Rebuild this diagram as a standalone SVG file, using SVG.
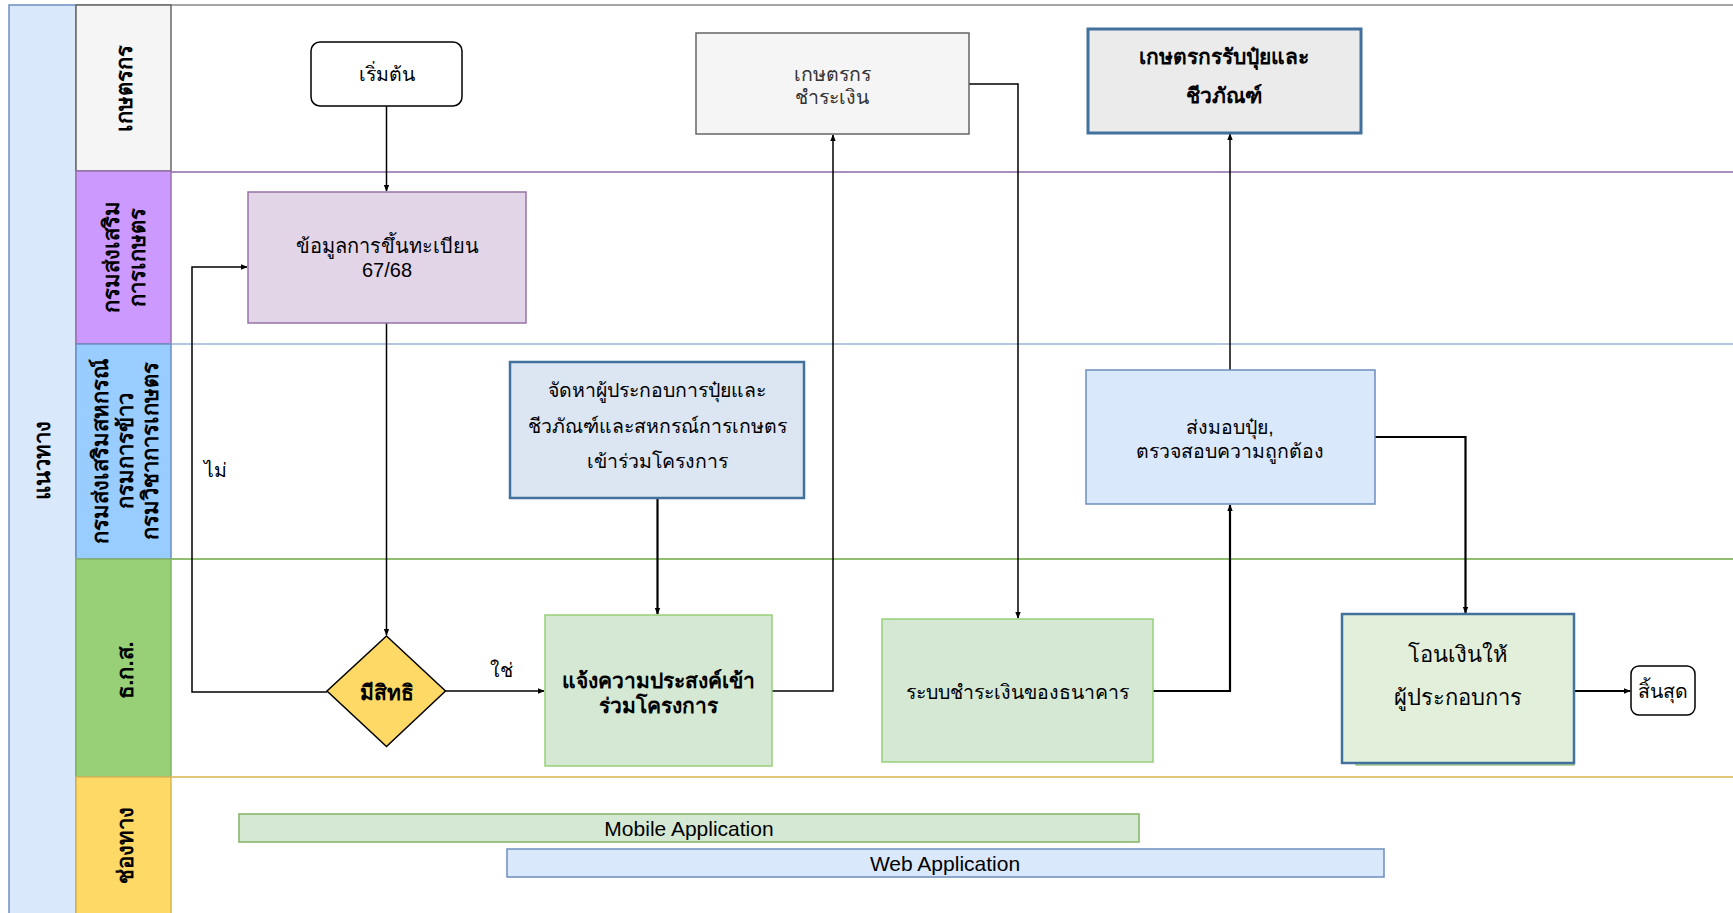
<svg xmlns="http://www.w3.org/2000/svg" width="1733" height="913" viewBox="0 0 1733 913">
<defs>
<marker id="arr" viewBox="0 0 10 10" refX="9" refY="5" markerWidth="7" markerHeight="7" markerUnits="userSpaceOnUse" orient="auto">
<path d="M0,1 L10,5 L0,9 Z" fill="#000"/>
</marker>
<style>
text{font-family:"Liberation Sans","Noto Sans",sans-serif;fill:#000;}
.hd{font-size:22px;font-weight:bold;text-anchor:middle;dominant-baseline:central;}
.t{font-size:19.5px;text-anchor:middle;dominant-baseline:central;}
.tb{font-size:21px;font-weight:bold;text-anchor:middle;dominant-baseline:central;}
.c{fill:none;stroke:#000;stroke-width:1.5;}
.c2{fill:none;stroke:#000;stroke-width:2.2;}
</style>
</defs>
<rect width="1733" height="913" fill="#fff"/>

<g id="pool">
<rect x="9" y="5" width="67" height="912" fill="#dae8fc" stroke="#6c8ebf" stroke-width="1.5"/>
<text class="hd" transform="rotate(-90 42 460)" x="42" y="460">แนวทาง</text>
</g>

<g id="lane-farmer">
<line x1="76" y1="5" x2="1733" y2="5" stroke="#a6a6a6" stroke-width="2"/>
<rect x="76" y="5" width="95" height="166" fill="#f5f5f5" stroke="#666" stroke-width="1.5"/>
<text class="hd" transform="rotate(-90 124 88)" x="124" y="88">เกษตรกร</text>
</g>
<g id="lane-doae">
<line x1="171" y1="172" x2="1733" y2="172" stroke="#a88fc0" stroke-width="2"/>
<rect x="76" y="171" width="95" height="173" fill="#cc99ff" stroke="#9673a6" stroke-width="1.5"/>
<text class="hd" transform="rotate(-90 111 257)" x="111" y="257">กรมส่งเสริม</text>
<text class="hd" transform="rotate(-90 137 257)" x="137" y="257">การเกษตร</text>
</g>
<g id="lane-coop">
<line x1="171" y1="344" x2="1733" y2="344" stroke="#b4c7e0" stroke-width="2"/>
<rect x="76" y="344" width="95" height="215" fill="#99ccff" stroke="#6c8ebf" stroke-width="1.5"/>
<text class="hd" transform="rotate(-90 100 451)" x="100" y="451">กรมส่งเสริมสหกรณ์</text>
<text class="hd" transform="rotate(-90 125 451)" x="125" y="451">กรมการข้าว</text>
<text class="hd" transform="rotate(-90 150 451)" x="150" y="451">กรมวิชาการเกษตร</text>
</g>
<g id="lane-baac">
<line x1="171" y1="559" x2="1733" y2="559" stroke="#8fbf6f" stroke-width="2"/>
<rect x="76" y="559" width="95" height="218" fill="#97d077" stroke="#82b366" stroke-width="1.5"/>
<text class="hd" transform="rotate(-90 125 670)" x="125" y="670">ธ.ก.ส.</text>
</g>
<g id="lane-channel">
<line x1="171" y1="777" x2="1733" y2="777" stroke="#e0c77a" stroke-width="2"/>
<rect x="76" y="777" width="95" height="140" fill="#ffd966" stroke="#d6b656" stroke-width="1.5"/>
<text class="hd" transform="rotate(-90 125 845)" x="125" y="845">ช่องทาง</text>
</g>

<g id="connectors">
<path class="c" d="M386.5,106 V191" marker-end="url(#arr)"/>
<path class="c" d="M386.5,323 V635" marker-end="url(#arr)"/>
<path class="c" d="M327,692 H192 V267 H247" marker-end="url(#arr)"/>
<path class="c" d="M445.5,691 H544" marker-end="url(#arr)"/>
<path class="c2" d="M657.5,498 V614" marker-end="url(#arr)"/>
<path class="c" d="M772,691 H833 V135" marker-end="url(#arr)"/>
<path class="c" d="M969,84 H1018 V618" marker-end="url(#arr)"/>
<path class="c2" d="M1153,691 H1230 V505" marker-end="url(#arr)"/>
<path class="c" d="M1230,370 V134" marker-end="url(#arr)"/>
<path class="c2" d="M1375,437 H1465.5 V613" marker-end="url(#arr)"/>
<path class="c2" d="M1574,691 H1630" marker-end="url(#arr)"/>
<text class="t" x="215" y="470">ไม่</text>
<text class="t" x="501" y="670">ใช่</text>
</g>

<g id="n-start">
<rect x="311" y="42" width="151" height="64" rx="9" fill="#fff" stroke="#000" stroke-width="1.5"/>
<text class="t" x="386.5" y="74">เริ่มต้น</text>
</g>
<g id="n-farmer-pay">
<rect x="696" y="33" width="273" height="101" fill="#f5f5f5" stroke="#666" stroke-width="1.5"/>
<text class="t" x="832" y="74" style="fill:#333">เกษตรกร</text>
<text class="t" x="832" y="97" style="fill:#333">ชำระเงิน</text>
</g>
<g id="n-farmer-receive">
<rect x="1088" y="29" width="273" height="104" fill="#ebebeb" stroke="#41719c" stroke-width="3"/>
<text class="tb" x="1224" y="56">เกษตรกรรับปุ๋ยและ</text>
<text class="tb" x="1224" y="95">ชีวภัณฑ์</text>
</g>
<g id="n-register">
<rect x="248" y="192" width="278" height="131" fill="#e1d5e7" stroke="#9673a6" stroke-width="1.5"/>
<text class="t" x="387" y="246" style="font-size:20px">ข้อมูลการขึ้นทะเบียน</text>
<text class="t" x="387" y="270" style="font-size:20px">67/68</text>
</g>
<g id="n-supplier">
<rect x="510" y="362" width="294" height="136" fill="#dce6f2" stroke="#41719c" stroke-width="2.5"/>
<text class="t" x="657" y="390">จัดหาผู้ประกอบการปุ๋ยและ</text>
<text class="t" x="657" y="426">ชีวภัณฑ์และสหกรณ์การเกษตร</text>
<text class="t" x="657" y="461">เข้าร่วมโครงการ</text>
</g>
<g id="n-deliver">
<rect x="1086" y="370" width="289" height="134" fill="#dae8fc" stroke="#6c8ebf" stroke-width="1.5"/>
<text class="t" x="1230" y="427">ส่งมอบปุ๋ย,</text>
<text class="t" x="1230" y="451">ตรวจสอบความถูกต้อง</text>
</g>
<g id="n-eligible">
<polygon points="386.5,636 445.5,691 386.5,746.5 327,691" fill="#ffd966" stroke="#000" stroke-width="1.5"/>
<text class="tb" x="386.5" y="692">มีสิทธิ</text>
</g>
<g id="n-notify">
<rect x="545" y="615" width="227" height="151" fill="#d5e8d4" stroke="#97d077" stroke-width="1.5"/>
<text class="tb" x="658" y="680">แจ้งความประสงค์เข้า</text>
<text class="tb" x="658" y="705">ร่วมโครงการ</text>
</g>
<g id="n-bank">
<rect x="882" y="619" width="271" height="143" fill="#d5e8d4" stroke="#97d077" stroke-width="1.5"/>
<text class="t" x="1017.5" y="692">ระบบชำระเงินของธนาคาร</text>
</g>
<g id="n-transfer">
<rect x="1356" y="618" width="218" height="147" fill="#e2efda" stroke="#82b366" stroke-width="1.2"/>
<rect x="1342" y="614" width="232" height="149" fill="#e2efda" stroke="#41719c" stroke-width="2.5"/>
<text class="t" x="1458" y="654" style="font-size:22px">โอนเงินให้</text>
<text class="t" x="1458" y="697" style="font-size:22px">ผู้ประกอบการ</text>
</g>
<g id="n-end">
<rect x="1631" y="666" width="64" height="49" rx="8" fill="#fff" stroke="#000" stroke-width="1.5"/>
<text class="t" x="1663" y="691">สิ้นสุด</text>
</g>
<g id="n-mobile">
<rect x="239" y="814" width="900" height="28" fill="#d5e8d4" stroke="#82b366" stroke-width="1.5"/>
<text class="t" x="689" y="828" style="font-size:21px">Mobile Application</text>
</g>
<g id="n-web">
<rect x="507" y="849" width="877" height="28" fill="#dae8fc" stroke="#6c8ebf" stroke-width="1.5"/>
<text class="t" x="945" y="863" style="font-size:21px">Web Application</text>
</g>
</svg>
